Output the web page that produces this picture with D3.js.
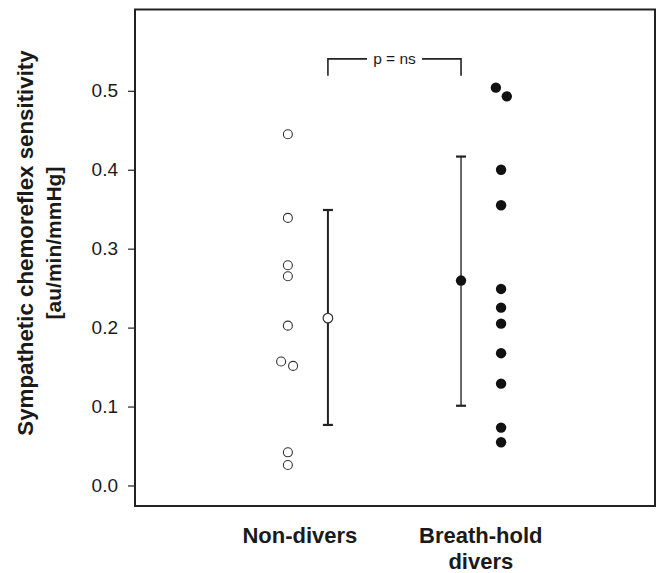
<!DOCTYPE html>
<html>
<head>
<meta charset="utf-8">
<script src="https://cdn.jsdelivr.net/npm/d3@7"></script>
<style>
  html, body { margin: 0; padding: 0; background: #fff; }
  svg { display: block; }
  text { font-family: "Liberation Sans", Arial, sans-serif; fill: #1a1a1a; }
</style>
</head>
<body>
<svg id="chart" width="657" height="573"></svg>
<script>
// ---------------- DATA ----------------
const categories = ["Non-divers", "Breath-hold divers"];
const nonDivers = [0.445, 0.339, 0.279, 0.265, 0.2025, 0.157, 0.1515, 0.042, 0.026];
const nonDiversJitter = [0, 0, 0, 0, 0, -0.13, 0.1, 0, 0];
const breathHold = [0.504, 0.493, 0.400, 0.355, 0.249, 0.2253, 0.205, 0.1676, 0.129, 0.0733, 0.0548];
const breathHoldJitter = [-0.1, 0.11, 0, 0, 0, 0, 0, 0, 0, 0, 0];
const means = [0.212, 0.2596];
const errLow = [0.0767, 0.101];
const errHigh = [0.349, 0.4167];
const yTicks = [0.0, 0.1, 0.2, 0.3, 0.4, 0.5];
const pLabel = "p = ns";

// ---------------- LAYOUT ----------------
const svg = d3.select("#chart");
const frame = { left: 135, right: 655, top: 9.5, bottom: 506 };
const x = d3.scaleLinear().domain([0, 10]).range([frame.left, frame.right]);
const y = d3.scaleLinear().domain([-0.026, 0.603]).range([frame.bottom, frame.top]);
const labelPos = [3.17, 6.65];
const pointPos = [2.94, 7.04];
const meanPos = [3.71, 6.27];
const ink = "#1a1a1a";

// frame
svg.append("rect")
  .attr("x", frame.left).attr("y", frame.top)
  .attr("width", frame.right - frame.left).attr("height", frame.bottom - frame.top)
  .attr("fill", "none").attr("stroke", "#222").attr("stroke-width", 2);

// y axis
const yAxis = d3.axisLeft(y).tickValues(yTicks).tickFormat(d3.format(".1f"))
  .tickSize(7).tickPadding(10);
const gy = svg.append("g").attr("transform", `translate(${frame.left},0)`).call(yAxis);
gy.select(".domain").remove();
gy.selectAll(".tick line").attr("stroke", "#222").attr("stroke-width", 1.2);
gy.selectAll(".tick text").attr("font-size", 19).attr("fill", ink)
  .style("font-family", "'Liberation Sans', Arial, sans-serif");

// y title
const yMid = 243;
svg.append("text")
  .attr("transform", `translate(33,${yMid}) rotate(-90)`)
  .attr("text-anchor", "middle").attr("font-size", 22.3).attr("font-weight", "bold")
  .text("Sympathetic chemoreflex sensitivity");
svg.append("text")
  .attr("transform", `translate(61,${yMid}) rotate(-90)`)
  .attr("text-anchor", "middle").attr("font-size", 21).attr("font-weight", "bold")
  .text("[au/min/mmHg]");

// category labels
const catLines = [["Non-divers"], ["Breath-hold", "divers"]];
catLines.forEach((lines, i) => {
  const t = svg.append("text")
    .attr("x", x(labelPos[i])).attr("y", 543)
    .attr("text-anchor", "middle").attr("font-size", 22).attr("font-weight", "bold");
  lines.forEach((ln, j) => {
    t.append("tspan").attr("x", x(labelPos[i])).attr("dy", j === 0 ? 0 : 26).text(ln);
  });
});

// error bars
const capW = 10;
[0, 1].forEach(i => {
  const cx = x(meanPos[i]);
  const g = svg.append("g");
  g.append("line").attr("x1", cx).attr("x2", cx)
    .attr("y1", y(errLow[i])).attr("y2", y(errHigh[i]))
    .attr("stroke", i === 0 ? "#222" : "#444").attr("stroke-width", i === 0 ? 2 : 1.6);
  [errLow[i], errHigh[i]].forEach(v => {
    g.append("line").attr("x1", cx - capW / 2).attr("x2", cx + capW / 2)
      .attr("y1", y(v)).attr("y2", y(v))
      .attr("stroke", "#222").attr("stroke-width", 2.2);
  });
});

// mean markers
svg.append("circle").attr("cx", x(meanPos[0])).attr("cy", y(means[0])).attr("r", 4.8)
  .attr("fill", "#fff").attr("stroke", "#333").attr("stroke-width", 1.2);
svg.append("circle").attr("cx", x(meanPos[1])).attr("cy", y(means[1])).attr("r", 5.2)
  .attr("fill", "#111");

// individual points
svg.append("g").selectAll("circle").data(nonDivers).join("circle")
  .attr("cx", (d, i) => x(pointPos[0] + nonDiversJitter[i]))
  .attr("cy", d => y(d)).attr("r", 4.5)
  .attr("fill", "#fff").attr("stroke", "#333").attr("stroke-width", 1.1);
svg.append("g").selectAll("circle").data(breathHold).join("circle")
  .attr("cx", (d, i) => x(pointPos[1] + breathHoldJitter[i]))
  .attr("cy", d => y(d)).attr("r", 5.2)
  .attr("fill", "#111");

// significance bracket
const brTop = y(0.5405), brLeg = y(0.519);
const bx1 = x(meanPos[0]), bx2 = x(meanPos[1]);
const bmid = (bx1 + bx2) / 2;
const gap = 27.5;
svg.append("path")
  .attr("d", `M${bx1},${brLeg}V${brTop}H${bmid - gap}M${bmid + gap},${brTop}H${bx2}V${brLeg}`)
  .attr("fill", "none").attr("stroke", "#222").attr("stroke-width", 1.6);
svg.append("text").attr("x", bmid).attr("y", brTop + 5)
  .attr("text-anchor", "middle").attr("font-size", 15.5).text(pLabel);
</script>
</body>
</html>
